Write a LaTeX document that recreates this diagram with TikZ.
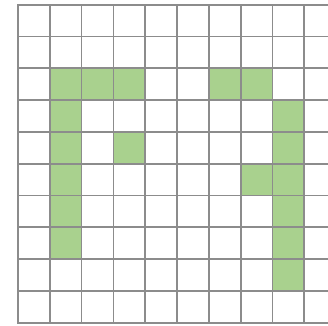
\documentclass[tikz,border=0pt]{standalone}
\definecolor{cellgreen}{HTML}{A9D18E}
\definecolor{gridgray}{HTML}{8C8C8C}
\begin{document}
\begin{tikzpicture}[cellfill/.style={fill=cellgreen}, gridline/.style={draw=gridgray, line width=1.6pt, line cap=rect}]
    \useasboundingbox (-0.566,-0.085) rectangle (9.748,10.148);
    \clip (-0.566,-0.085) rectangle (9.748,10.148);
    % green cells (column, row counted from the top)
    \foreach \c/\r in {1/2,2/2,3/2,6/2,7/2,1/3,8/3,1/4,3/4,8/4,1/5,7/5,8/5,1/6,8/6,1/7,8/7,8/8}
        \fill[cellfill] (\c,9-\r) rectangle ++(1,1);
    % grid
    \foreach \i in {0,...,10}
        \draw[gridline] (0,\i) -- (10,\i);
    \foreach \i in {0,...,10}
        \draw[gridline] (\i,0) -- (\i,10);
\end{tikzpicture}
\end{document}
